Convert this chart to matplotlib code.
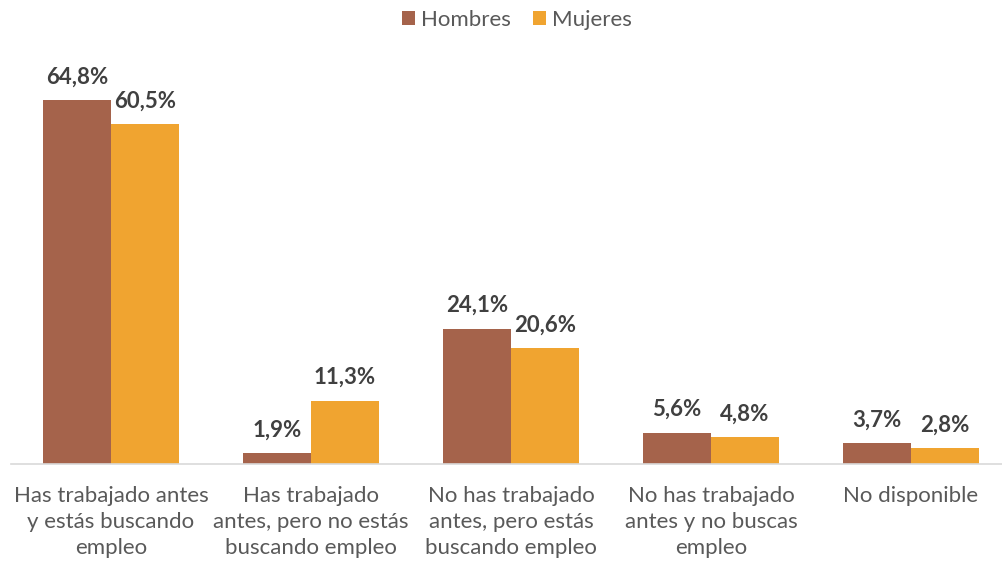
import matplotlib.pyplot as plt
import numpy as np

categorias = ["Has trabajado antes\ny estás buscando\nempleo",
              "Has trabajado\nantes, pero no estás\nbuscando empleo",
              "No has trabajado\nantes, pero estás\nbuscando empleo",
              "No has trabajado\nantes y no buscas\nempleo",
              "No disponible"]
hombres = [64.8, 1.9, 24.1, 5.6, 3.7]
mujeres = [60.5, 11.3, 20.6, 4.8, 2.8]

plt.rcParams['font.family'] = ['Lato', 'DejaVu Sans']

fig = plt.figure(figsize=(10.02, 5.67), dpi=100)
ax = fig.add_axes([11/1002, 1 - 464/567, 991/1002, 424/567])

x = np.arange(len(categorias))
w = 0.34
b1 = ax.bar(x - w/2, hombres, w, color='#A5634B', label='Hombres')
b2 = ax.bar(x + w/2, mujeres, w, color='#F0A430', label='Mujeres')

for bars, vals in ((b1, hombres), (b2, mujeres)):
    for b, v in zip(bars, vals):
        ax.annotate(f"{v:.1f}%".replace('.', ','),
                    (b.get_x() + b.get_width()/2, v),
                    xytext=(0, 9), textcoords='offset points',
                    ha='center', va='bottom', fontsize=16,
                    fontweight='bold', color='#404040')

ax.set_xlim(-0.5, 4.455)
ax.set_ylim(0, 75.5)
ax.set_xticks(x)
ax.set_xticklabels(categorias, fontsize=16, color='#595959', linespacing=1.38)
ax.tick_params(axis='x', length=0, pad=16)
ax.set_yticks([])
for s in ['top', 'right', 'left']:
    ax.spines[s].set_visible(False)
ax.spines['bottom'].set_color('#D9D9D9')
ax.spines['bottom'].set_linewidth(1.2)

fig.legend(loc='upper center', bbox_to_anchor=(0.516, 1.018), ncol=2,
           frameon=False, fontsize=16, labelcolor='#595959',
           handlelength=0.6, handleheight=0.6, handletextpad=0.25,
           columnspacing=1.0)

fig.savefig('out.png', dpi=100)
